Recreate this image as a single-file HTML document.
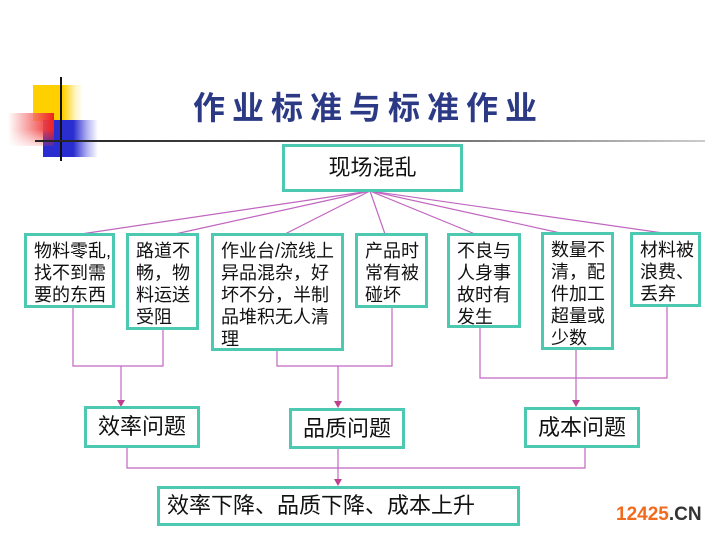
<!DOCTYPE html>
<html><head><meta charset="utf-8"><style>
body{margin:0;width:720px;height:540px;background:#fff;position:relative;overflow:hidden;font-family:"Liberation Sans","Noto Sans CJK SC",sans-serif;}
.b{position:absolute;box-sizing:border-box;border:3px solid #4cc9b0;background:#fff;color:#111;font-size:18px;line-height:22px;padding:4px 0 0 7px;white-space:nowrap;}
.c{text-align:center;padding:0;font-size:22px;}
</style></head><body>
<div style="position:absolute;left:33px;top:85px;width:50px;height:36px;background:linear-gradient(90deg,#ffd000 60%,rgba(255,220,60,0.3) 85%,rgba(255,255,255,0))"></div>
<div style="position:absolute;left:43px;top:120px;width:55px;height:37px;background:linear-gradient(90deg,#2a2ed0 55%,rgba(60,60,220,0.4) 80%,rgba(255,255,255,0))"></div>
<div style="position:absolute;left:8px;top:113px;width:46px;height:33px;background:linear-gradient(90deg,rgba(255,255,255,0),rgba(245,120,120,0.8) 50%,#f02020);-webkit-mask:linear-gradient(180deg,#000 50%,rgba(0,0,0,0.2));"></div>
<div style="position:absolute;left:60px;top:77px;width:2px;height:84px;background:#111"></div>
<div style="position:absolute;left:35px;top:140px;width:670px;height:2px;background:linear-gradient(90deg,#222,#555 50%,#ccc)"></div>
<div style="position:absolute;left:193px;top:88px;font-size:32px;font-weight:bold;color:#2c3a86;letter-spacing:7px;line-height:40px;">作业标准与标准作业</div>
<svg width="720" height="540" style="position:absolute;left:0;top:0" stroke="#c066c0" stroke-width="1.2" fill="none">
<defs><marker id="a" markerWidth="8" markerHeight="8" refX="4" refY="6" orient="auto-start-reverse" markerUnits="userSpaceOnUse"><path d="M0,0 L8,0 L4,7 z" fill="#c04090" stroke="none" transform="rotate(-90 4 4)"/></marker></defs>
<line x1="370" y1="191" x2="81" y2="234"/>
<line x1="370" y1="191" x2="175" y2="234"/>
<line x1="370" y1="191" x2="285" y2="234"/>
<line x1="370" y1="191" x2="385" y2="234"/>
<line x1="370" y1="191" x2="475" y2="234"/>
<line x1="370" y1="191" x2="565" y2="234"/>
<line x1="370" y1="191" x2="670" y2="234"/>
<polyline points="73,307 73,366 163,366 163,330"/>
<polyline points="277,350 277,366 392,366 392,307"/>
<polyline points="480,327 480,378 667,378 667,306"/>
<line x1="121" y1="366" x2="121" y2="401"/>
<line x1="338" y1="366" x2="338" y2="402"/>
<line x1="576" y1="349" x2="576" y2="401"/>
<polyline points="127,447 127,468 585,468 585,447"/>
<line x1="338" y1="448" x2="338" y2="480"/>
</svg>
<svg width="720" height="540" style="position:absolute;left:0;top:0" fill="#c04090">
<path d="M117,400 L125,400 L121,407z"/><path d="M334,401 L342,401 L338,408z"/><path d="M572,400 L580,400 L576,407z"/><path d="M334,479 L342,479 L338,486z"/>
</svg>
<div class="b c" style="left:282px;top:144px;width:181px;height:48px;line-height:42px;">现场混乱</div>
<div class="b" style="left:24px;top:233px;width:91px;height:75px;">物料零乱,<br>找不到需<br>要的东西</div>
<div class="b" style="left:126px;top:233px;width:73px;height:97px;">路道不<br>畅，物<br>料运送<br>受阻</div>
<div class="b" style="left:211px;top:233px;width:133px;height:118px;">作业台/流线上<br>异品混杂，好<br>坏不分，半制<br>品堆积无人清<br>理</div>
<div class="b" style="left:355px;top:233px;width:73px;height:75px;">产品时<br>常有被<br>碰坏</div>
<div class="b" style="left:447px;top:233px;width:74px;height:95px;">不良与<br>人身事<br>故时有<br>发生</div>
<div class="b" style="left:541px;top:232px;width:73px;height:118px;">数量不<br>清，配<br>件加工<br>超量或<br>少数</div>
<div class="b" style="left:630px;top:232px;width:71px;height:75px;">材料被<br>浪费、<br>丢弃</div>
<div class="b c" style="left:84px;top:406px;width:116px;height:42px;line-height:36px;">效率问题</div>
<div class="b c" style="left:289px;top:408px;width:116px;height:41px;line-height:35px;">品质问题</div>
<div class="b c" style="left:524px;top:407px;width:116px;height:41px;line-height:35px;">成本问题</div>
<div class="b" style="left:157px;top:486px;width:363px;height:40px;line-height:34px;font-size:22px;padding:0 0 0 7px;">效率下降、品质下降、成本上升</div>
<div style="position:absolute;left:616px;top:504px;font-size:19px;font-weight:bold;line-height:22px;color:#f26a1b;">12425<span style="color:#333">.CN</span></div>
</body></html>
